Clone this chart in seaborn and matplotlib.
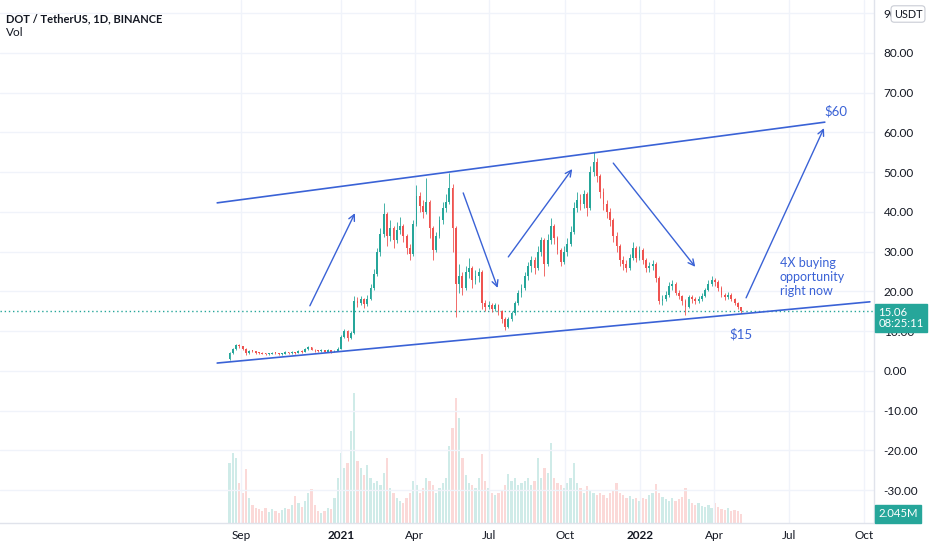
import numpy as np
import pandas as pd
import matplotlib
matplotlib.use("Agg")
import matplotlib.pyplot as plt
import matplotlib.transforms as mtransforms
import seaborn as sns

# ---------------- data (4-day candles, DOT/USDT) ----------------
START = "2020-08-18"
opens = [2.9, 4.5, 5.5, 6.5, 6.2, 5.6, 4.6, 5.1, 5.0, 4.6,
         4.5, 4.4, 4.3, 4.4, 4.6, 4.5, 4.3, 4.4, 4.7, 4.5,
         4.8, 4.6, 5.0, 4.9, 5.5, 6.0, 5.4, 5.2, 5.0, 5.3,
         4.9, 5.2, 4.9, 5.1, 5.6, 8.5, 10.0, 8.4, 9.6, 17.5,
         17.0, 18.0, 16.8, 18.2, 21.0, 24.5, 30.0, 34.5, 39.5, 34.0,
         36.0, 33.0, 35.5, 36.5, 34.0, 31.0, 29.5, 37.0, 44.0, 41.5,
         40.0, 42.5, 36.0, 30.5, 34.0, 38.0, 41.0, 42.5, 46.0, 36.0,
         22.0, 24.0, 21.0, 25.0, 26.0, 23.0, 24.0, 25.0, 17.0, 16.0,
         16.5, 15.5, 16.5, 15.0, 13.0, 11.0, 13.0, 14.5, 17.0, 19.5,
         21.0, 24.0, 26.5, 28.0, 26.0, 30.0, 33.0, 27.0, 33.0, 36.5,
         33.5, 30.5, 27.5, 30.0, 32.0, 35.0, 41.0, 43.0, 42.0, 44.5,
         41.0, 50.0, 52.5, 49.0, 45.0, 42.0, 40.0, 38.0, 34.0, 31.5,
         28.0, 27.0, 26.0, 28.5, 31.0, 28.5, 30.5, 28.0, 26.0, 26.5,
         27.0, 23.5, 17.5, 18.0, 19.0, 21.5, 22.0, 19.5, 18.8, 17.5,
         16.2, 18.5, 18.0, 17.5, 18.0, 18.8, 20.5, 22.0, 22.8, 22.5,
         21.0, 19.0, 18.5, 19.2, 18.0, 17.0, 16.0]
highs = [4.8, 5.9, 6.9, 6.8, 6.4, 5.8, 5.4, 5.3, 5.1, 4.8,
         4.7, 4.6, 4.6, 4.9, 4.8, 4.6, 4.6, 5.0, 4.9, 5.1,
         4.9, 5.3, 5.2, 5.8, 6.4, 6.1, 5.6, 5.4, 5.6, 5.4,
         5.5, 5.3, 5.4, 6.0, 9.0, 10.6, 10.2, 10.0, 18.8, 18.5,
         18.9, 18.4, 19.0, 22.0, 25.6, 31.0, 36.0, 42.3, 40.0, 38.0,
         36.5, 37.5, 38.7, 37.0, 34.5, 32.0, 38.0, 46.8, 45.0, 43.0,
         48.5, 43.0, 36.5, 35.0, 39.0, 42.5, 44.5, 49.8, 47.0, 36.5,
         27.0, 25.0, 26.5, 28.4, 26.5, 25.5, 26.0, 25.5, 17.8, 17.5,
         17.0, 17.0, 16.8, 15.3, 13.5, 13.5, 15.0, 17.5, 20.5, 22.0,
         25.0, 27.5, 29.0, 28.7, 31.5, 33.8, 33.5, 34.5, 38.5, 37.0,
         34.0, 31.0, 31.5, 33.5, 36.5, 42.5, 45.0, 44.5, 45.5, 45.0,
         51.5, 55.0, 53.5, 49.5, 46.0, 43.0, 41.0, 38.5, 35.0, 32.0,
         29.0, 28.0, 29.5, 32.5, 31.5, 31.5, 31.0, 28.5, 27.5, 28.0,
         27.5, 24.0, 19.0, 20.0, 22.5, 23.0, 22.5, 20.5, 19.0, 18.0,
         19.2, 19.0, 18.5, 18.8, 19.5, 21.0, 22.8, 23.8, 23.5, 22.8,
         21.3, 19.5, 19.8, 19.5, 18.4, 17.3, 16.2]
lows = [2.7, 4.2, 5.3, 5.8, 5.3, 4.1, 4.4, 4.7, 4.4, 4.2,
        4.2, 4.1, 4.1, 4.3, 4.3, 4.0, 4.1, 4.3, 4.3, 4.4,
        4.4, 4.5, 4.6, 4.8, 5.3, 5.2, 4.9, 4.8, 4.9, 4.7,
        4.7, 4.6, 4.7, 5.0, 5.5, 8.2, 7.6, 8.0, 9.4, 16.0,
        16.5, 15.9, 16.4, 17.9, 20.5, 24.0, 29.0, 33.8, 31.5, 32.8,
        31.0, 32.2, 34.5, 32.5, 29.5, 27.9, 29.0, 36.5, 40.0, 38.5,
        39.5, 33.5, 28.0, 30.0, 33.5, 37.0, 40.0, 42.0, 30.0, 13.6,
        19.5, 19.0, 20.5, 23.5, 21.0, 22.0, 22.5, 15.5, 15.2, 15.5,
        14.8, 15.0, 14.0, 12.0, 10.4, 10.8, 12.5, 14.0, 16.5, 18.5,
        20.5, 23.0, 25.0, 24.5, 25.5, 29.0, 24.0, 26.5, 32.0, 32.0,
        29.5, 26.5, 27.0, 29.0, 31.5, 34.5, 40.0, 40.5, 41.0, 39.0,
        40.5, 49.0, 47.5, 43.5, 40.5, 38.5, 36.5, 32.5, 30.0, 26.5,
        25.5, 25.0, 25.5, 28.0, 27.5, 28.0, 27.0, 25.0, 25.0, 25.5,
        22.5, 16.8, 16.5, 17.5, 18.5, 20.5, 19.0, 18.0, 16.5, 14.1,
        15.8, 17.2, 16.8, 17.0, 17.5, 18.5, 20.0, 21.5, 21.5, 20.0,
        18.5, 17.8, 18.0, 17.5, 16.5, 15.5, 14.7]
closes = [4.5, 5.5, 6.5, 6.2, 5.6, 4.6, 5.1, 5.0, 4.6, 4.5,
          4.4, 4.3, 4.4, 4.6, 4.5, 4.3, 4.4, 4.7, 4.5, 4.8,
          4.6, 5.0, 4.9, 5.5, 6.0, 5.4, 5.2, 5.0, 5.3, 4.9,
          5.2, 4.9, 5.1, 5.6, 8.5, 10.0, 8.4, 9.6, 17.5, 17.0,
          18.0, 16.8, 18.2, 21.0, 24.5, 30.0, 34.5, 39.5, 34.0, 36.0,
          33.0, 35.5, 36.5, 34.0, 31.0, 29.5, 37.0, 44.0, 41.5, 40.0,
          42.5, 36.0, 30.5, 34.0, 38.0, 41.0, 42.5, 46.0, 36.0, 22.0,
          24.0, 21.0, 25.0, 26.0, 23.0, 24.0, 25.0, 17.0, 16.0, 16.5,
          15.5, 16.5, 15.0, 13.0, 11.0, 13.0, 14.5, 17.0, 19.5, 21.0,
          24.0, 26.5, 28.0, 26.0, 30.0, 33.0, 27.0, 33.0, 36.5, 33.5,
          30.5, 27.5, 30.0, 32.0, 35.0, 41.0, 43.0, 42.0, 44.5, 41.0,
          50.0, 52.5, 49.0, 45.0, 42.0, 40.0, 38.0, 34.0, 31.5, 28.0,
          27.0, 26.0, 28.5, 31.0, 28.5, 30.5, 28.0, 26.0, 26.5, 27.0,
          23.5, 17.5, 18.0, 19.0, 21.5, 22.0, 19.5, 18.8, 17.5, 16.2,
          18.5, 18.0, 17.5, 18.0, 18.8, 20.5, 22.0, 22.8, 22.5, 21.0,
          19.0, 18.5, 19.2, 18.0, 17.0, 16.0, 15.06]
volumes_m = [13.6, 15.9, 14.8, 9.1, 6.8, 12.3, 5.7, 4.1, 3.4, 3.2,
             2.7, 3.4, 2.5, 3.2, 2.7, 2.3, 3.0, 3.4, 3.2, 4.1,
             6.1, 4.5, 3.6, 5.0, 6.8, 7.7, 4.1, 2.7, 2.3, 2.7,
             3.4, 3.2, 5.7, 10.2, 15.9, 12.5, 13.6, 20.9, 29.5, 14.1,
             12.5, 10.9, 13.2, 10.2, 9.1, 9.5, 8.6, 11.4, 14.8, 7.9,
             6.8, 5.7, 5.0, 4.5, 5.7, 6.8, 9.5, 8.6, 6.8, 7.9,
             10.2, 9.5, 8.6, 6.8, 7.9, 9.1, 10.2, 17.5, 21.6, 28.4,
             23.8, 14.8, 10.9, 9.1, 8.6, 7.9, 10.2, 15.7, 9.5, 7.9,
             6.8, 6.4, 6.8, 7.3, 8.6, 11.1, 9.5, 10.2, 8.6, 9.1,
             9.5, 10.2, 8.6, 9.5, 14.8, 10.2, 12.5, 11.4, 18.2, 10.2,
             9.1, 8.6, 7.9, 9.1, 10.2, 13.6, 9.1, 7.9, 6.8, 8.4,
             7.3, 6.8, 6.4, 6.8, 6.4, 5.7, 6.8, 7.3, 9.1, 6.8,
             6.4, 5.7, 6.1, 5.4, 5.7, 5.0, 5.7, 5.4, 6.4, 6.8,
             8.9, 6.8, 5.9, 5.4, 5.0, 5.7, 5.0, 5.4, 5.9, 7.9,
             5.4, 4.5, 4.1, 4.5, 3.9, 3.6, 4.1, 3.4, 4.5, 3.6,
             3.2, 3.0, 3.4, 2.7, 3.0, 2.7, 2.045]

last_price = 15.06
last_volume_label = "2.045M"
countdown = "08:25:11"

tick_dates = ["2020-09-01", "2021-01-01", "2021-04-01", "2021-07-01", "2021-10-01",
              "2022-01-01", "2022-04-01", "2022-07-01", "2022-10-01"]
tick_labels = ["Sep", "2021", "Apr", "Jul", "Oct", "2022", "Apr", "Jul", "Oct"]
price_ticks = [-30, -20, -10, 0, 10, 20, 30, 40, 50, 60, 70, 80, 90]

# drawings: (days since START, price)
upper_line_days = [-15, 726]
upper_line_price = [42.3, 62.6]
lower_line_days = [-15, 781]
lower_line_price = [2.0, 17.4]
arrow_start_days = [98, 285, 340, 468, 630]
arrow_start_price = [16.4, 44.8, 28.7, 52.3, 18.4]
arrow_end_days = [153, 327, 418, 568, 725]
arrow_end_price = [39.7, 20.9, 50.8, 26.2, 61.1]

# ---------------- style ----------------
sns.set_theme(style="white")
plt.rcParams["font.family"] = ["Lato", "DejaVu Sans"]

UP = "#26a69a"
DOWN = "#ef5350"
DRAW = "#3a62d6"
TXT = "#131722"
GRID = "#f0f3fa"

o = np.array(opens); h = np.array(highs); l = np.array(lows); c = np.array(closes)
dates = pd.date_range(START, periods=len(c), freq="4D")
day = (dates - pd.Timestamp(START)).days.values
up = c >= o
cols = np.where(up, UP, DOWN)

W, H = 932, 550
fig = plt.figure(figsize=(W / 100, H / 100), dpi=100, facecolor="white")
rect = [0, 27 / H, 874 / W, 523 / H]
ax = fig.add_axes(rect)
axv = fig.add_axes(rect, sharex=ax)
axv.set_zorder(0)
ax.set_zorder(1)
ax.patch.set_visible(False)

# volume (seaborn histogram weighted by volume, one bin per candle)
vdf = pd.DataFrame({"day": day, "vol": volumes_m, "dir": np.where(up, "up", "down")})
sns.histplot(data=vdf, x="day", weights="vol", hue="dir", hue_order=["up", "down"],
             palette={"up": UP, "down": DOWN}, binwidth=4, binrange=(-2, day[-1] + 2),
             alpha=0.22, linewidth=0, shrink=0.7, legend=False, ax=axv)
axv.set_ylim(0, 118.7)
axv.axis("off")

# candles
ax.vlines(day, l, h, colors=cols, lw=0.6, zorder=3)
ax.bar(day, np.maximum(np.abs(c - o), 0.2), bottom=np.minimum(o, c), width=2.2,
       color=cols, linewidth=0, zorder=4)

# last price dotted line
ax.axhline(last_price, color=UP, ls=(0, (1, 2)), lw=1, zorder=2)

# trend lines
sns.lineplot(x=upper_line_days, y=upper_line_price, ax=ax, color=DRAW, lw=1.2, zorder=5)
sns.lineplot(x=lower_line_days, y=lower_line_price, ax=ax, color=DRAW, lw=1.2, zorder=5)
for xs, ys, xe, ye in zip(arrow_start_days, arrow_start_price, arrow_end_days, arrow_end_price):
    ax.annotate("", xy=(xe, ye), xytext=(xs, ys),
                arrowprops=dict(arrowstyle="->", color=DRAW, lw=1.0, mutation_scale=11,
                                shrinkA=0, shrinkB=0), zorder=5)

ax.text(740, 65.4, "$60", color=DRAW, fontsize=9.5, ha="center", va="center")
ax.text(624, 9.3, "$15", color=DRAW, fontsize=9.5, ha="center", va="center")
ax.text(671, 23.6, "4X buying\nopportunity\nright now", color=DRAW, fontsize=9,
        ha="left", va="center", linespacing=1.2)

# axes formatting
ax.set_xlim(-279.9, 786)
ax.set_ylim(-38.24, 93.33)
ax.set_axisbelow(True)
tpos = [(pd.Timestamp(d) - pd.Timestamp(START)).days for d in tick_dates]
ax.set_xticks(tpos)
ax.set_xticklabels(tick_labels)
for lab in ax.get_xticklabels():
    if lab.get_text().isdigit():
        lab.set_fontweight("bold")
ax.set_yticks(price_ticks)
ax.set_yticklabels([f"{v:.2f}" for v in price_ticks])
ax.yaxis.tick_right()
ax.tick_params(axis="y", length=0, pad=7, labelsize=8.5, labelcolor=TXT)
ax.tick_params(axis="x", length=0, pad=5, labelsize=8.5, labelcolor=TXT)
ax.grid(True, color=GRID, lw=1)
for s in ["top", "left"]:
    ax.spines[s].set_visible(False)
for s in ["right", "bottom"]:
    ax.spines[s].set_color("#e0e3eb")
    ax.spines[s].set_linewidth(1)
ax.set_xlabel("")
ax.set_ylabel("")

# badges on price scale
bt = mtransforms.blended_transform_factory(ax.transAxes, ax.transData)
ax.annotate(f"{last_price:.2f}\n{countdown}", xy=(1.0, last_price), xycoords=bt,
            xytext=(3, -5), textcoords="offset points", ha="left", va="center",
            color="white", fontsize=8.2, linespacing=1.0, annotation_clip=False, zorder=10,
            bbox=dict(boxstyle="square,pad=0.3", fc=UP, ec=UP))
vt = mtransforms.blended_transform_factory(ax.transAxes, axv.transData)
ax.annotate(last_volume_label, xy=(1.0, volumes_m[-1]), xycoords=vt,
            xytext=(3, 0), textcoords="offset points", ha="left", va="center",
            color="white", fontsize=8.2, annotation_clip=False, zorder=10,
            bbox=dict(boxstyle="square,pad=0.3", fc=UP, ec=UP))
fig.text(908 / W, 1 - 14 / H, "USDT", ha="center", va="center", fontsize=7.8, color=TXT,
         bbox=dict(boxstyle="round,pad=0.25,rounding_size=0.3", fc="white", ec="#c9ccd4", lw=0.8),
         zorder=10)

fig.text(6 / W, 1 - 19 / H, "DOT / TetherUS, 1D, BINANCE", ha="left", va="center",
         fontsize=8.0, fontweight="bold", color=TXT)
fig.text(6 / W, 1 - 33 / H, "Vol", ha="left", va="center", fontsize=8.5, color=TXT)

fig.savefig("out.png", dpi=100, facecolor="white")
